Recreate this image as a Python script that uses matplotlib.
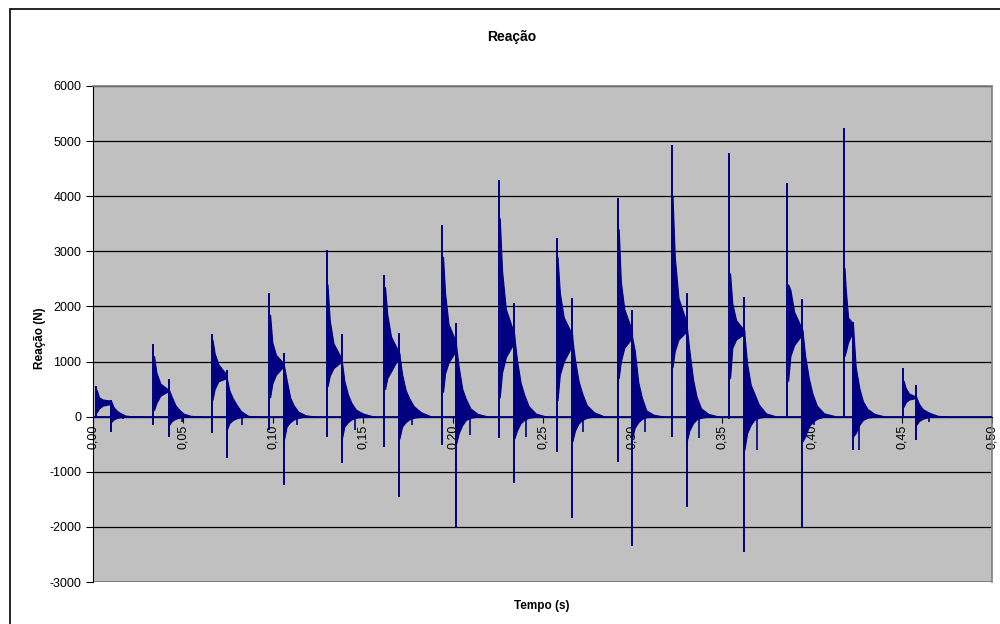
import numpy as np
import matplotlib
matplotlib.use('Agg')
import matplotlib.pyplot as plt
from matplotlib.patches import Rectangle
from matplotlib.ticker import FuncFormatter, MultipleLocator

plt.rcParams['font.family'] = ['Liberation Sans', 'DejaVu Sans']
plt.rcParams['axes.unicode_minus'] = False

# impact events (time in s, force in N)
t_imp = [0.0017, 0.0335, 0.0660, 0.0981, 0.1300, 0.1620, 0.1943, 0.2258,
         0.2579, 0.2920, 0.3219, 0.3539, 0.3862, 0.4177, 0.4505]
peak1 = [553, 1317, 1500, 2237, 3023, 2570, 3477, 4293,
         3235, 3961, 4928, 4777, 4233, 5231, 876]
dip1 = [-30, -150, -300, -250, -365, -546, -515, -394,
        -636, -830, -364, -50, 0, 0, 0]
t_sec = [0.0100, 0.0423, 0.0743, 0.1062, 0.1383, 0.1704, 0.2019, 0.2343,
         0.2666, 0.2998, 0.3302, 0.3623, 0.3946, 0.4227, 0.4579]
peak2 = [300, 680, 845, 1148, 1493, 1511, 1693, 2055,
         2146, 1935, 2237, 2176, 2128, 1723, 574]
dip2 = [-275, -365, -750, -1240, -848, -1453, -1998, -1211,
        -1845, -2343, -1634, -2451, -2027, -606, -424]

# oscillation band between impact and second spike (fraction of the gap)
band_frac = [0.05, 0.2, 0.45, 1.0]
band_hi = [[480, 350, 310, 290], [1100, 800, 600, 480], [1400, 1150, 950, 760],
           [1850, 1350, 1120, 960], [2400, 1750, 1330, 1050], [2350, 1850, 1450, 1150],
           [2900, 2237, 1680, 1350], [3600, 2650, 1950, 1500], [2900, 2250, 1800, 1480],
           [3400, 2450, 1950, 1560], [4000, 2900, 2150, 1700], [2600, 2050, 1750, 1560],
           [2400, 2300, 1900, 1570], [2700, 2300, 1800, 1690], [650, 520, 420, 360]]
band_lo = [[80, 150, 200, 230], [120, 250, 380, 470], [300, 500, 640, 700],
           [350, 600, 760, 920], [550, 740, 880, 1000], [500, 700, 820, 1100],
           [450, 786, 980, 1200], [350, 800, 1080, 1350], [300, 760, 1000, 1300],
           [700, 1000, 1250, 1430], [900, 1190, 1400, 1550], [700, 1250, 1400, 1500],
           [650, 1100, 1300, 1500], [1100, 1180, 1350, 1550], [180, 260, 310, 340]]

# decaying tail after the second spike
tail_off = [0.0, 0.0015, 0.0035, 0.0055, 0.008, 0.012, 0.018]
tail_hi = [[290, 170, 100, 60, 20, 5, 0], [480, 360, 210, 130, 55, 15, 0],
           [720, 480, 330, 220, 100, 15, 0], [930, 665, 340, 200, 90, 25, 0],
           [1030, 650, 400, 245, 125, 55, 0], [1130, 770, 480, 330, 190, 80, 0],
           [1300, 900, 500, 320, 150, 50, 0], [1450, 1030, 620, 400, 190, 55, 0],
           [1400, 1027, 640, 420, 210, 80, 0], [1450, 1200, 620, 340, 110, 35, 0],
           [1650, 1200, 680, 360, 150, 50, 0], [1500, 960, 580, 420, 220, 60, 0],
           [1550, 1100, 700, 420, 200, 60, 10], [1650, 900, 520, 280, 140, 50, 0],
           [350, 230, 140, 100, 60, 15, 0]]
tail_lo = [[-100, -50, -20, -10, 0, 0, 0], [-150, -80, -40, -20, 0, 0, 0],
           [-250, -120, -60, -30, -10, 0, 0], [-420, -180, -100, -50, -20, 0, 0],
           [-420, -180, -100, -50, -20, 0, 0], [-400, -180, -100, -50, -20, 0, 0],
           [-500, -300, -150, -60, -20, 0, 0], [-400, -250, -120, -60, -20, 0, 0],
           [-450, -250, -120, -60, -20, 0, 0], [-400, -200, -100, -40, -10, 0, 0],
           [-450, -250, -120, -50, -20, 0, 0], [-600, -300, -150, -60, -20, 0, 0],
           [-450, -360, -180, -100, -40, 0, 0], [-360, -300, -150, -60, -20, 0, 0],
           [-150, -80, -40, -20, 0, 0, 0]]
neg_dt = [0.0067, 0.0071, 0.0083, 0.0071, 0.0074, 0.0069, 0.0078, 0.0065,
          0.0061, 0.0071, 0.0069, 0.0069, 0.0065, 0.0032, 0.0072]
neg_val = [-40, -90, -150, -150, -243, -150, -333, -364,
           -273, -273, -394, -606, -150, -606, -90]

navy = '#000080'

fig = plt.figure(figsize=(10, 6.24), dpi=100)
fig.patches.append(Rectangle((0.010, -0.1), 1.2, 1.1 - 9 / 624, transform=fig.transFigure,
                             fill=False, edgecolor='black', lw=1.2))
ax = fig.add_axes([0.093, 0.0673, 0.899, 0.795])
ax.set_facecolor('#c0c0c0')

ax.plot([0, 0.5], [0, 0], color=navy, lw=1.3, zorder=3)
for i in range(len(t_imp)):
    tb = t_imp[i] + np.array(band_frac) * (t_sec[i] - t_imp[i])
    ax.fill_between(tb, band_lo[i], band_hi[i], color=navy, lw=0.8, zorder=3)
    tt = t_sec[i] + np.array(tail_off)
    ax.fill_between(tt, tail_lo[i], tail_hi[i], color=navy, lw=0.8, zorder=3)
    ax.vlines(t_imp[i], dip1[i], peak1[i], color=navy, lw=1.4, zorder=3)
    ax.vlines(t_sec[i], dip2[i], peak2[i], color=navy, lw=1.4, zorder=3)
    ax.vlines(t_sec[i] + neg_dt[i], neg_val[i], 0, color=navy, lw=1.2, zorder=3)

ax.set_xlim(0, 0.5)
ax.set_ylim(-3000, 6000)
ax.xaxis.set_major_locator(MultipleLocator(0.05))
ax.yaxis.set_major_locator(MultipleLocator(1000))
ax.xaxis.set_major_formatter(FuncFormatter(lambda v, p: f'{v:.2f}'.replace('.', ',')))
ax.yaxis.grid(True, color='black', lw=0.9, zorder=1)
ax.set_axisbelow(True)

ax.spines['bottom'].set_position(('data', 0))
ax.spines['bottom'].set_color('black')
ax.spines['left'].set_color('black')
for s in ['top', 'right']:
    ax.spines[s].set_color('#808080')
    ax.spines[s].set_linewidth(1.2)
ax.axhline(-3000, color='#808080', lw=1.5, zorder=2)

ax.tick_params(axis='x', direction='out', length=4, labelsize=9, rotation=90, pad=2)
ax.tick_params(axis='y', direction='out', length=5, labelsize=9)

fig.text(0.512, 1 - 37 / 624, 'Reação', ha='center', va='center', fontsize=10, fontweight='bold')
fig.text(0.542, 1 - 606 / 624, 'Tempo (s)', ha='center', va='center', fontsize=8.5, fontweight='bold')
fig.text(0.040, 1 - 338 / 624, 'Reação (N)', ha='center', va='center', rotation=90,
         fontsize=8.5, fontweight='bold')

fig.savefig('out.png', dpi=100)
